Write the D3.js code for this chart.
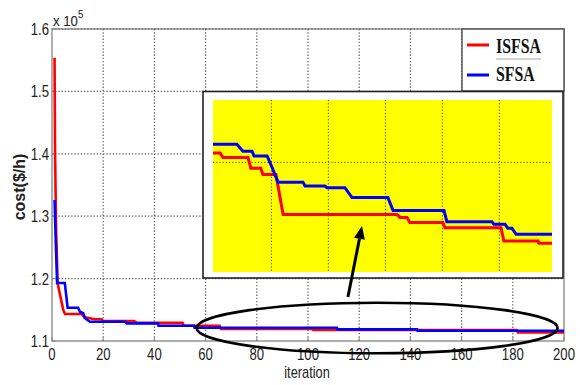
<!DOCTYPE html>
<html>
<head>
<meta charset="utf-8">
<script src="https://cdn.jsdelivr.net/npm/d3@7"></script>
<style>
  html, body { margin: 0; padding: 0; background: #fff; }
  svg { display: block; }
</style>
</head>
<body>
<svg id="chart" width="580" height="385"></svg>
<script>
// ---------- data ----------
const xTicks = [0, 20, 40, 60, 80, 100, 120, 140, 160, 180, 200];
const yTicks = [110000, 120000, 130000, 140000, 150000, 160000];
const yTickLabels = ["1.1", "1.2", "1.3", "1.4", "1.5", "1.6"];
const seriesNames = ["ISFSA", "SFSA"];
const seriesColors = ["#ff0000", "#0000ff"];

// main chart (iteration, cost $/h)
const isfsaIter = [1, 1.2, 1.6, 2.2, 4.4, 5.1, 11.6, 12.6, 16.8, 19.4, 20, 32.1, 33.1, 51, 51.5, 65.5, 66, 101.5, 102, 181.5, 182, 200];
const isfsaCost = [155400, 140000, 128000, 119250, 114970, 114330, 114330, 113800, 113480, 113480, 113200, 113200, 112900, 112900, 112450, 112450, 111950, 111950, 111760, 111760, 111390, 111390];
const sfsaIter = [1, 1.5, 2, 5, 6.1, 10.2, 10.9, 12.2, 12.9, 14.8, 28.5, 29.2, 41.4, 41.6, 55.5, 55.7, 111.3, 111.5, 142.6, 142.8, 200];
const sfsaCost = [132600, 125500, 119300, 119300, 115340, 115340, 114700, 114440, 113640, 113090, 113090, 112830, 112830, 112450, 112450, 112130, 112130, 111870, 111870, 111650, 111650];

// zoomed inset (iteration, cost $/h)
const insetXDomain = [59.5, 178.5];
const insetYDomain = [111745, 112145];
const insetXGrid = [80, 100, 120, 140, 160];
const insetYGrid = [112000];
const insetIsfsaIter = [59.5, 62.0, 63.0, 71.8, 72.8, 76.3, 77.0, 81.6, 84.1, 124.1, 125.1, 127.6, 128.6, 140.2, 140.9, 160.6, 161.6, 173.6, 173.9, 178.5];
const insetIsfsaCost = [112022, 112022, 112011, 112011, 111986, 111986, 111972, 111972, 111879, 111879, 111872, 111872, 111860, 111860, 111848, 111848, 111817, 111817, 111812, 111812];
const insetSfsaIter = [59.5, 67.9, 70.0, 73.2, 73.9, 78.5, 80.5, 82.3, 91.1, 91.8, 98.8, 99.5, 105.8, 108.3, 120.9, 122.7, 140.6, 141.6, 157.4, 158.1, 162.0, 163.0, 164.4, 165.9, 178.5];
const insetSfsaCost = [112042, 112042, 112026, 112026, 112015, 112015, 111984, 111954, 111954, 111945, 111945, 111941, 111941, 111918, 111918, 111888, 111888, 111862, 111862, 111856, 111856, 111847, 111847, 111833, 111833];

// annotation (data units)
const ellipseCenter = [127, 112080];   // iteration, cost
const ellipseRadii = [70.5, 4050];    // iteration, cost
const arrowTail = [115.6, 117050];     // main-chart data units
const arrowTip = [111.8, 111852];      // inset data units

// ---------- layout ----------
const svg = d3.select("#chart");
const plot = { left: 52, right: 564, top: 29, bottom: 341 };
const x = d3.scaleLinear().domain([0, 200]).range([plot.left, plot.right]);
const y = d3.scaleLinear().domain([110000, 160000]).range([plot.bottom, plot.top]);

const SQ = 0.82; // horizontal squeeze of the reference lettering

// frame
svg.append("rect")
  .attr("x", plot.left).attr("y", plot.top)
  .attr("width", plot.right - plot.left).attr("height", plot.bottom - plot.top)
  .attr("fill", "#fff").attr("stroke", "#9a9a9a").attr("stroke-width", 1.6);

// grid
const grid = svg.append("g");
grid.selectAll("line.vx").data(xTicks.slice(1, -1)).join("line")
  .attr("x1", d => x(d)).attr("x2", d => x(d))
  .attr("y1", plot.top).attr("y2", plot.bottom)
  .attr("stroke", "#5a5a5a").attr("stroke-width", 1.2).attr("stroke-dasharray", "1.3,1.9");
grid.selectAll("line.hy").data(yTicks.slice(1)).join("line")
  .attr("x1", plot.left).attr("x2", plot.right)
  .attr("y1", d => y(d)).attr("y2", d => y(d))
  .attr("stroke", "#5a5a5a").attr("stroke-width", 1.2).attr("stroke-dasharray", "1.3,1.9");

// inward ticks
const ticks = svg.append("g").attr("stroke", "#888").attr("stroke-width", 1);
ticks.selectAll("line.tx").data(xTicks).join("line")
  .attr("x1", d => x(d)).attr("x2", d => x(d))
  .attr("y1", plot.bottom).attr("y2", plot.bottom - 4);
ticks.selectAll("line.ty").data(yTicks).join("line")
  .attr("x1", plot.left).attr("x2", plot.left + 4)
  .attr("y1", d => y(d)).attr("y2", d => y(d));

// tick labels
const lab = svg.append("g").attr("font-family", "Liberation Sans, Arial, sans-serif")
  .attr("font-size", 16).attr("fill", "#222");
lab.selectAll("text.xl").data(xTicks).join("text")
  .attr("transform", d => `translate(${x(d)},360) scale(${SQ},1)`)
  .attr("text-anchor", "middle").text(d => d);
lab.selectAll("text.yl").data(yTicks).join("text")
  .attr("transform", (d, i) => `translate(49,${y(d) + 6}) scale(${SQ},1)`)
  .attr("text-anchor", "end").text((d, i) => yTickLabels[i]);

// exponent
const expo = svg.append("text").attr("font-family", "Liberation Sans, Arial, sans-serif")
  .attr("fill", "#222").attr("transform", "translate(53,25.5) scale(0.88,1)");
expo.append("tspan").attr("font-size", 15).text("x 10");
expo.append("tspan").attr("font-size", 11).attr("dy", -8).text("5");

// axis titles
svg.append("text")
  .attr("transform", `translate(${(plot.left + plot.right) / 2 - 1},378) scale(0.8,1)`)
  .attr("text-anchor", "middle").attr("font-family", "Liberation Sans, Arial, sans-serif")
  .attr("font-size", 16).attr("fill", "#222").text("iteration");
svg.append("text")
  .attr("transform", `translate(25,${(plot.top + plot.bottom) / 2 + 2}) rotate(-90)`)
  .attr("text-anchor", "middle").attr("font-family", "Liberation Sans, Arial, sans-serif")
  .attr("font-weight", "bold").attr("font-size", 16).attr("fill", "#222").text("cost($/h)");

// main series
const mainSeries = [
  { name: seriesNames[0], color: seriesColors[0], pts: d3.zip(isfsaIter, isfsaCost) },
  { name: seriesNames[1], color: seriesColors[1], pts: d3.zip(sfsaIter, sfsaCost) }
];
const line = d3.line().x(d => x(d[0])).y(d => y(d[1]));
svg.append("g").selectAll("path").data(mainSeries).join("path")
  .attr("d", d => line(d.pts)).attr("fill", "none")
  .attr("stroke", d => d.color).attr("stroke-width", 2.6).attr("stroke-linejoin", "miter");

// legend
const lg = svg.append("g");
lg.append("rect").attr("x", 462).attr("y", plot.top).attr("width", plot.right - 462).attr("height", 62)
  .attr("fill", "#fff").attr("stroke", "#555").attr("stroke-width", 1.5);
const legY = [45, 75];
const legBase = [52.5, 81];
mainSeries.forEach((s, i) => {
  lg.append("line").attr("x1", 467).attr("x2", 489).attr("y1", legY[i]).attr("y2", legY[i])
    .attr("stroke", s.color).attr("stroke-width", 3);
  lg.append("text").attr("transform", `translate(496,${legBase[i]}) scale(0.72,1)`)
    .attr("font-family", "Liberation Serif, Times New Roman, serif").attr("font-weight", "bold")
    .attr("font-size", 22).attr("fill", "#111").text(s.name);
});
lg.append("line").attr("x1", 496).attr("x2", 541).attr("y1", 59).attr("y2", 59)
  .attr("stroke", "#c4c4c4").attr("stroke-width", 1.5);

// inset
const inset = { left: 213, right: 552, top: 100, bottom: 272 };
svg.append("rect").attr("x", 203).attr("y", 91.5).attr("width", 360).attr("height", 186.5)
  .attr("fill", "#fff").attr("stroke", "#222").attr("stroke-width", 1.6);
const ix = d3.scaleLinear().domain(insetXDomain).range([inset.left, inset.right]);
const iy = d3.scaleLinear().domain(insetYDomain).range([inset.bottom, inset.top]);
svg.append("rect").attr("x", inset.left).attr("y", inset.top)
  .attr("width", inset.right - inset.left).attr("height", inset.bottom - inset.top)
  .attr("fill", "#ffff00");
const ig = svg.append("g").attr("stroke", "#444").attr("stroke-width", 1).attr("stroke-dasharray", "1.2,2");
ig.selectAll("line.v").data(insetXGrid).join("line")
  .attr("x1", d => ix(d)).attr("x2", d => ix(d)).attr("y1", inset.top).attr("y2", inset.bottom);
ig.selectAll("line.h").data(insetYGrid).join("line")
  .attr("x1", inset.left).attr("x2", inset.right).attr("y1", d => iy(d)).attr("y2", d => iy(d));
const insetSeries = [
  { color: seriesColors[0], pts: d3.zip(insetIsfsaIter, insetIsfsaCost) },
  { color: seriesColors[1], pts: d3.zip(insetSfsaIter, insetSfsaCost) }
];
const iline = d3.line().x(d => ix(d[0])).y(d => iy(d[1]));
svg.append("g").selectAll("path").data(insetSeries).join("path")
  .attr("d", d => iline(d.pts)).attr("fill", "none")
  .attr("stroke", d => d.color).attr("stroke-width", 3).attr("stroke-linejoin", "miter");

// ellipse
svg.append("ellipse")
  .attr("cx", x(ellipseCenter[0])).attr("cy", y(ellipseCenter[1]))
  .attr("rx", x(ellipseRadii[0]) - x(0)).attr("ry", y(110000) - y(110000 + ellipseRadii[1]))
  .attr("fill", "none").attr("stroke", "#000").attr("stroke-width", 2.6);

// arrow
const tx = x(arrowTail[0]), ty = y(arrowTail[1]);
const hx = ix(arrowTip[0]), hy = iy(arrowTip[1]);
const ang = Math.atan2(hy - ty, hx - tx);
const headLen = 13, headW = 5.5;
const bx = hx - headLen * Math.cos(ang), by = hy - headLen * Math.sin(ang);
svg.append("line").attr("x1", tx).attr("y1", ty).attr("x2", bx).attr("y2", by)
  .attr("stroke", "#000").attr("stroke-width", 3);
svg.append("path")
  .attr("d", d3.line()([
    [hx, hy],
    [bx + headW * Math.sin(ang), by - headW * Math.cos(ang)],
    [bx - headW * Math.sin(ang), by + headW * Math.cos(ang)]
  ]) + "Z")
  .attr("fill", "#000");
</script>
</body>
</html>
